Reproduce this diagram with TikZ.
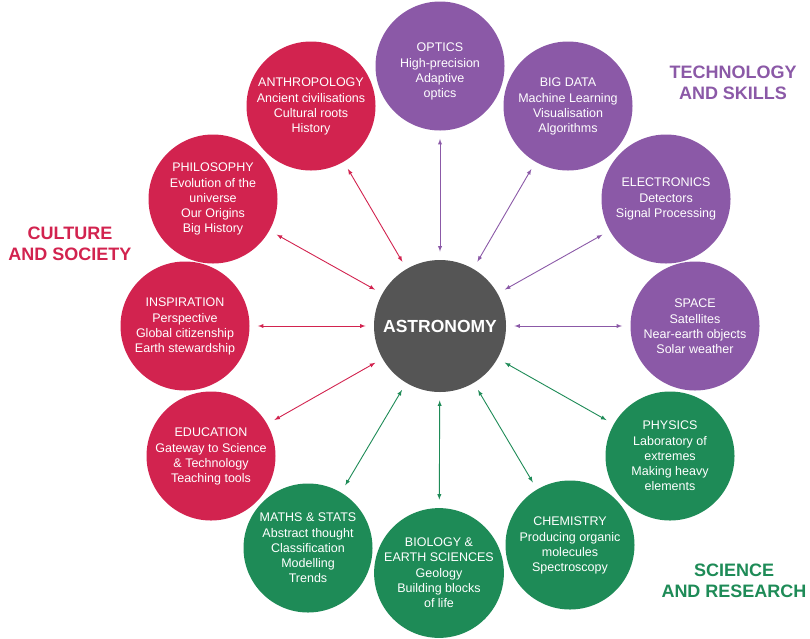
\documentclass[tikz,border=0pt]{standalone}
\usepackage{fontspec}
\setmainfont{Liberation Sans}
\usetikzlibrary{positioning,arrows}
\definecolor{culture}{HTML}{D2234F}
\definecolor{tech}{HTML}{8B59A7}
\definecolor{science}{HTML}{1E8B57}
\definecolor{core}{HTML}{555555}
\tikzstyle{topic}=[circle,minimum size=129pt,inner sep=0pt,text=white,align=center,
  font=\fontsize{12.5}{15}\selectfont]
\tikzstyle{group}=[align=center,font=\bfseries\fontsize{18}{21}\selectfont]
\newcommand{\newTopic}[4]{\node[topic,#3](#1) at (#4) {#2};}
\newcommand{\newLink}[2]{\path[<->,#2] (astro) edge (#1);}

\begin{document}
\begin{tikzpicture}[x=1pt,y=-1pt,
    >=latex,shorten >=8pt,shorten <=8pt,
    line width=0.9pt  %thin, semithick
    ]
    \useasboundingbox (0,0) rectangle (810,638);
    \node[circle,fill=core,minimum size=132pt,inner sep=0pt,text=white,
      font=\bfseries\fontsize{17.5}{20}\selectfont](astro) at (440,326) {ASTRONOMY};
    % technology and skills
    \newTopic{optics}{OPTICS\\[1pt] High-precision\\ Adaptive\\ optics}{fill=tech,text height=66pt}{440,66}
    \newTopic{bigdata}{BIG DATA\\[1pt] Machine Learning\\ Visualisation\\ Algorithms}{fill=tech}{568,106}
    \newTopic{electronics}{ELECTRONICS\\[1pt] Detectors\\ Signal Processing}{fill=tech}{666,199}
    \newTopic{space}{SPACE\\[1pt] Satellites\\ Near-earth objects\\ Solar weather}{fill=tech}{695,326}
    % science and research
    \newTopic{physics}{PHYSICS\\[1pt] Laboratory of\\ extremes\\ Making heavy\\ elements}{fill=science}{670,456}
    \newTopic{chemistry}{CHEMISTRY\\[1pt] Producing organic\\ molecules\\ Spectroscopy}{fill=science}{570,545}
    \newTopic{biology}{BIOLOGY \&\\ EARTH SCIENCES\\[1pt] Geology\\ Building blocks\\ of life}{fill=science}{439,573}
    \newTopic{maths}{MATHS \& STATS\\[1pt] Abstract thought\\ Classification\\ Modelling\\ Trends}{fill=science}{308,548}
    % culture and society
    \newTopic{education}{EDUCATION\\[1pt] Gateway to Science\\ \& Technology\\ Teaching tools}{fill=culture}{211,456}
    \newTopic{inspiration}{INSPIRATION\\[1pt] Perspective\\ Global citizenship\\ Earth stewardship}{fill=culture}{185,326}
    \newTopic{philosophy}{PHILOSOPHY\\[1pt] Evolution of the\\ universe\\ Our Origins\\ Big History}{fill=culture}{213,199}
    \newTopic{anthropology}{ANTHROPOLOGY\\[1pt] Ancient civilisations\\ Cultural roots\\ History}{fill=culture}{311,106}
    \newLink{optics}{tech}
    \newLink{bigdata}{tech}
    \newLink{electronics}{tech}
    \newLink{space}{tech}
    \newLink{physics}{science}
    \newLink{chemistry}{science}
    \newLink{biology}{science}
    \newLink{maths}{science}
    \newLink{education}{culture}
    \newLink{inspiration}{culture}
    \newLink{philosophy}{culture}
    \newLink{anthropology}{culture}
    \node[group,text=tech](techlabel) at (733,83) {TECHNOLOGY\\AND SKILLS};
    \node[group,text=culture](culturelabel) at (70,244) {CULTURE\\AND SOCIETY};
    \node[group,text=science](sciencelabel) at (734,581) {SCIENCE\\AND RESEARCH};
  \end{tikzpicture}
\end{document}
